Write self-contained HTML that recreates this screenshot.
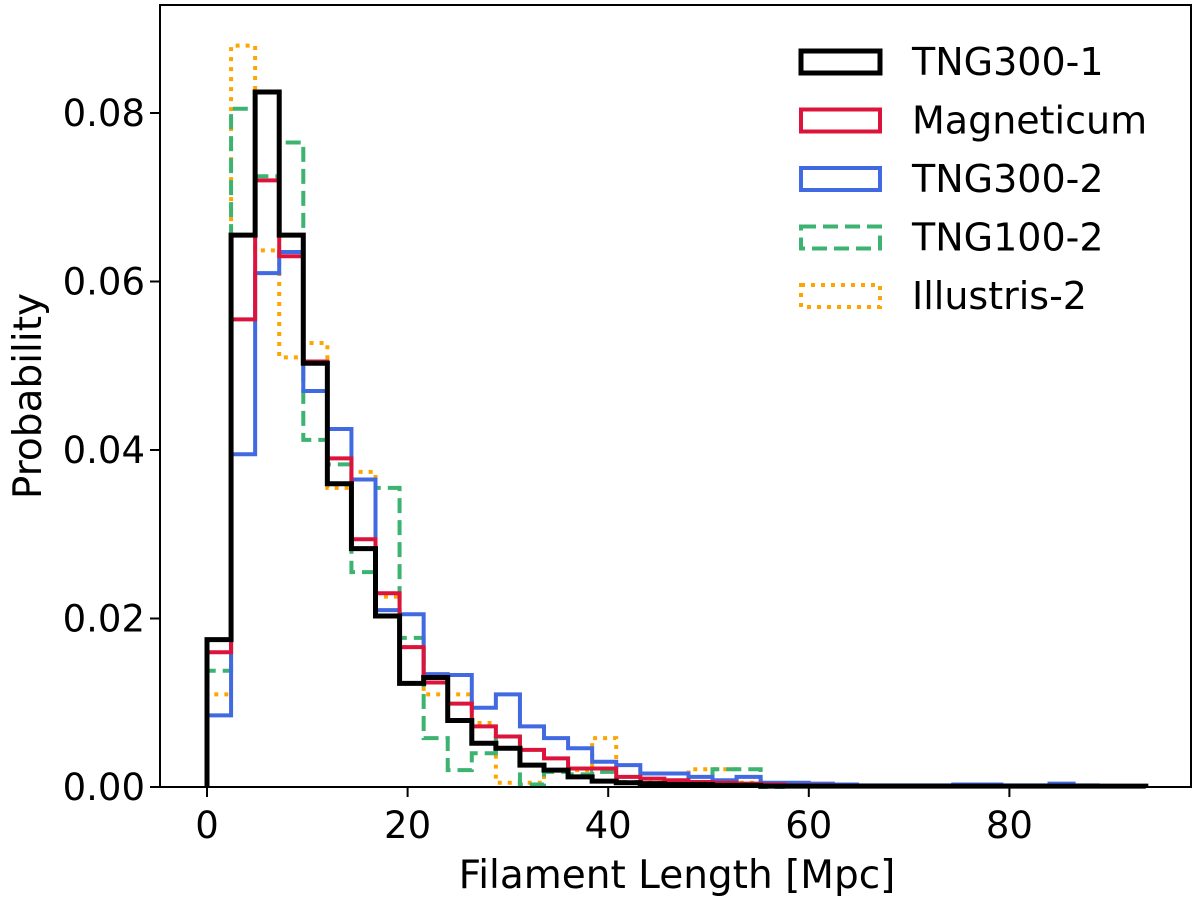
<!DOCTYPE html>
<html><head><meta charset="utf-8"><style>
html,body{margin:0;padding:0;background:#fff;}
svg{display:block;font-family:"DejaVu Sans","Liberation Sans",sans-serif;}
</style></head><body>
<svg id="chart" width="1200" height="902" viewBox="0 0 1200 902" xmlns="http://www.w3.org/2000/svg">
<g id="marks"></g>
<rect x="160" y="5" width="1031" height="782" fill="none" stroke="#000" stroke-width="2"/>
<g id="axes"></g>
<text x="677" y="888" font-size="39" text-anchor="middle">Filament Length [Mpc]</text>
<text transform="translate(41,396) rotate(-90)" font-size="39" text-anchor="middle">Probability</text>
<g id="legend"></g>
</svg>
<script>
const binWidth = 2.4;
const seriesNames = ["TNG300-1","Magneticum","TNG300-2","TNG100-2","Illustris-2"];
const tng300_1 = [0.0175,0.0655,0.0825,0.0655,0.0503,0.036,0.0283,0.0203,0.0123,0.013,0.0079,0.0052,0.0046,0.0026,0.002,0.0012,0.0007,0.0005,0.0004,0.0003,0.0003,0.0002,0.0002,0.0001,0.0001,0.0001,0.0001,0.0001,0.0001,0.0001,0.0001,0.0001,0.0001,0.0001,0.0001,0.0001,0.0001,0.0001,0.0001];
const magneticum = [0.016,0.0555,0.072,0.063,0.0505,0.039,0.0294,0.023,0.0166,0.0124,0.0099,0.0072,0.006,0.0044,0.0034,0.0022,0.0022,0.0012,0.001,0.0008,0.0006,0.0005,0.0004,0.0003,0.0002,0.0002,0.0001,0.0001,0.0001,0.0001];
const tng300_2 = [0.0085,0.0395,0.061,0.0635,0.047,0.0425,0.0365,0.021,0.0205,0.0134,0.0133,0.0094,0.011,0.0072,0.0058,0.0046,0.003,0.0026,0.0016,0.0016,0.0012,0.0008,0.0012,0.0005,0.0005,0.0004,0.0003,0.0002,0.0002,0.0002,0.0002,0.0003,0.0003,0.0002,0.0002,0.0004,0.0002];
const tng100_2 = [0.0138,0.0805,0.0725,0.0765,0.0412,0.0383,0.0255,0.0355,0.0177,0.0058,0.002,0.004,0.006,0.0003,0.0018,0.0015,0.0018,0.0006,0.0004,0.0003,0.0006,0.0021,0.0021,0];
const illustris_2 = [0.011,0.088,0.0637,0.051,0.0527,0.0355,0.0374,0.0226,0.0166,0.011,0.011,0.0076,0.0005,0.0005,0.002,0.002,0.0058,0.0005,0.0005,0.0004,0.0021,0.0021,0.0005];
const seriesValues = [tng300_1, magneticum, tng300_2, tng100_2, illustris_2];
const xTicks = [0,20,40,60,80];
const yTicks = [0,0.02,0.04,0.06,0.08];
const yTickLabels = ["0.00","0.02","0.04","0.06","0.08"];

const styles = [
  {c:"#000000",w:5,d:null,name:"series-tng300-1"},
  {c:"#dc143c",w:4,d:null,name:"series-magneticum"},
  {c:"#4169e1",w:4,d:null,name:"series-tng300-2"},
  {c:"#3cb371",w:4,d:"15,7",name:"series-tng100-2"},
  {c:"#ffa500",w:4,d:"4,6",name:"series-illustris-2"}
];
const X0=207, XS=10.03, Y0=787, YS=8425;
const xs = v => X0 + v*XS;
const ys = v => Y0 - v*YS;
const NS="http://www.w3.org/2000/svg";
const marks=document.getElementById('marks');
const drawOrder=[4,3,2,1,0];
drawOrder.forEach(k=>{
  const vals=seriesValues[k], st=styles[k];
  let d="M"+xs(0)+","+ys(0);
  vals.forEach((v,i)=>{
    d+=" L"+xs(i*binWidth)+","+ys(v)+" L"+xs((i+1)*binWidth)+","+ys(v);
  });
  d+=" L"+xs(vals.length*binWidth)+","+ys(0);
  const p=document.createElementNS(NS,'path');
  p.setAttribute('d',d);
  p.setAttribute('fill','none');
  p.setAttribute('stroke',st.c);
  p.setAttribute('stroke-width',st.w);
  if(st.d) p.setAttribute('stroke-dasharray',st.d);
  
  
  marks.appendChild(p);
});
const axes=document.getElementById('axes');
xTicks.forEach(t=>{
  const l=document.createElementNS(NS,'line');
  l.setAttribute('x1',xs(t));l.setAttribute('x2',xs(t));
  l.setAttribute('y1',787);l.setAttribute('y2',797);
  l.setAttribute('stroke','#000');l.setAttribute('stroke-width',2);
  
  
  axes.appendChild(l);
  const tx=document.createElementNS(NS,'text');
  tx.setAttribute('x',xs(t));tx.setAttribute('y',838);
  tx.setAttribute('font-size','37');tx.setAttribute('text-anchor','middle');
  tx.textContent=t;
  
  
  axes.appendChild(tx);
});
yTicks.forEach((t,i)=>{
  const l=document.createElementNS(NS,'line');
  l.setAttribute('x1',150);l.setAttribute('x2',160);
  l.setAttribute('y1',ys(t));l.setAttribute('y2',ys(t));
  l.setAttribute('stroke','#000');l.setAttribute('stroke-width',2);
  
  
  axes.appendChild(l);
  const tx=document.createElementNS(NS,'text');
  tx.setAttribute('x',145);tx.setAttribute('y',ys(t)+13);
  tx.setAttribute('font-size','37');tx.setAttribute('text-anchor','end');
  tx.textContent=yTickLabels[i];
  
  
  axes.appendChild(tx);
});
const legend=document.getElementById('legend');
seriesNames.forEach((n,i)=>{
  const st=styles[i], y=62+i*58.5;
  const r=document.createElementNS(NS,'rect');
  r.setAttribute('x',801);r.setAttribute('y',y-11);
  r.setAttribute('width',79);r.setAttribute('height',22);
  r.setAttribute('fill','none');r.setAttribute('stroke',st.c);r.setAttribute('stroke-width',st.w);
  if(st.d) r.setAttribute('stroke-dasharray',st.d);
  
  
  legend.appendChild(r);
  const tx=document.createElementNS(NS,'text');
  tx.setAttribute('x',912);tx.setAttribute('y',y+13);
  tx.setAttribute('font-size','38');
  tx.textContent=n;
  
  
  legend.appendChild(tx);
});
</script>
</body></html>
